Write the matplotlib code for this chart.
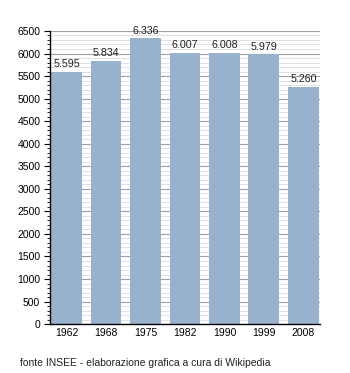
import matplotlib
matplotlib.use("Agg")
import matplotlib.pyplot as plt
from matplotlib.ticker import MultipleLocator

years = ["1962", "1968", "1975", "1982", "1990", "1999", "2008"]
population = [5595, 5834, 6336, 6007, 6008, 5979, 5260]
labels = ["5.595", "5.834", "6.336", "6.007", "6.008", "5.979", "5.260"]

plt.rcParams['font.family'] = ['Liberation Sans', 'DejaVu Sans']
fig = plt.figure(figsize=(3.5, 3.73), dpi=100)
ax = fig.add_axes([0.143, 0.131, 0.771, 0.786])

x = list(range(len(years)))
ax.set_axisbelow(True)
ax.yaxis.set_major_locator(MultipleLocator(500))
ax.yaxis.set_minor_locator(MultipleLocator(100))
ax.grid(axis='y', which='major', color='#a0a0a0', linewidth=0.8)
ax.grid(axis='y', which='minor', color='#dcdcdc', linewidth=0.6)
bars = ax.bar(x, population, width=0.78, color='#98b1cd', zorder=2)
for xi, v, lab in zip(x, population, labels):
    ax.text(xi, v + 60, lab, ha='center', va='bottom', fontsize=7.7, color='#222222')

ax.set_xlim(-0.42, 6.42)
ax.set_ylim(0, 6500)
ax.set_xticks(x)
ax.set_xticklabels(years, fontsize=7.5)
ax.tick_params(axis='x', length=0, pad=3)
ax.tick_params(axis='y', which='major', length=4, width=0.8, labelsize=7.5, pad=3)
ax.tick_params(axis='y', which='minor', length=2, width=0.6)
for s in ['top', 'right']:
    ax.spines[s].set_visible(False)
ax.spines['left'].set_linewidth(1.0)
ax.spines['bottom'].set_linewidth(1.0)

fig.text(0.057, 0.02, "fonte INSEE - elaborazione grafica a cura di Wikipedia", fontsize=7.5, color='#222222')
fig.savefig("out.png", dpi=100)
